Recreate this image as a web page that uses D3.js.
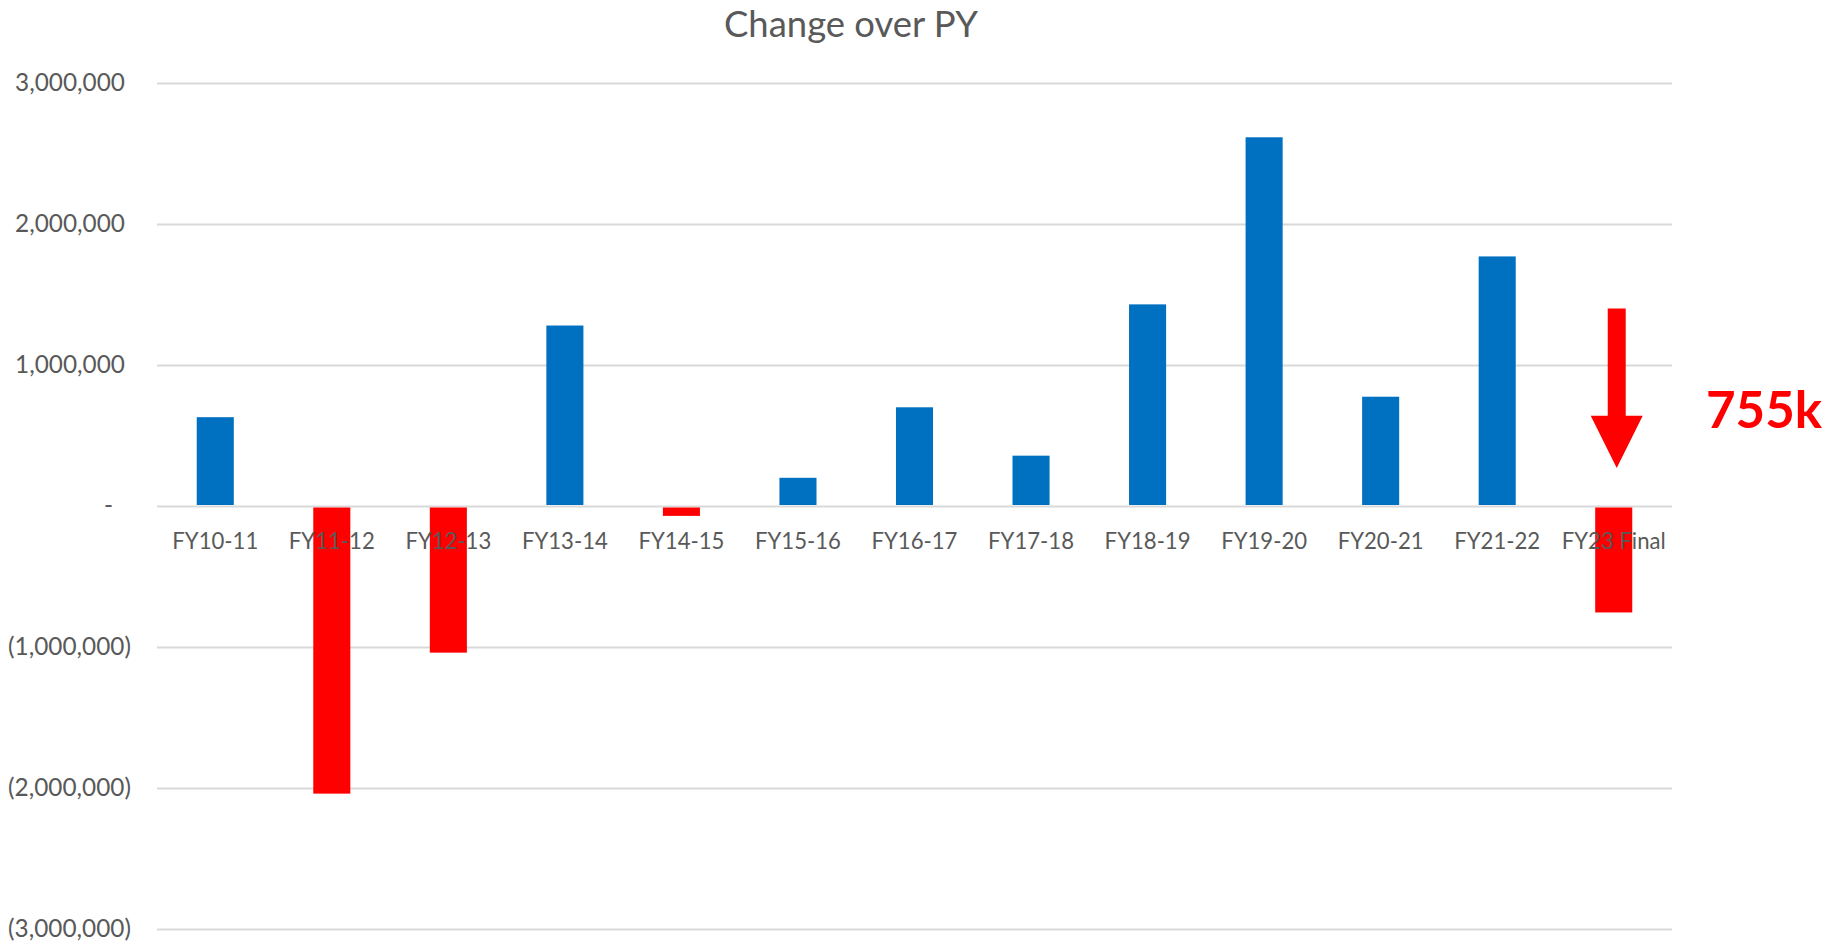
<!DOCTYPE html>
<html>
<head>
<meta charset="utf-8">
<script src="https://cdn.jsdelivr.net/npm/d3@7"></script>
<style>
  html, body { margin: 0; padding: 0; background: #fff; }
  svg text { font-family: Lato, "Open Sans", sans-serif; fill: #595959; }
</style>
</head>
<body>
<svg id="Vis" width="1846" height="944"></svg>
<script>
/*
* DATA
*/

const categories = ["FY10-11", "FY11-12", "FY12-13", "FY13-14", "FY14-15", "FY15-16",
  "FY16-17", "FY17-18", "FY18-19", "FY19-20", "FY20-21", "FY21-22", "FY23 Final"];

const changes = [630000, -2040000, -1040000, 1280000, -70000, 200000,
  700000, 357000, 1430000, 2615000, 775000, 1770000, -755000];

const yTicks = [-3000000, -2000000, -1000000, 0, 1000000, 2000000, 3000000];

const title = "Change over PY";
const callout = "755k";
// arrow annotation, in data units: shaft top, head base, tip
const arrowStops = [1400000, 640000, 270000];


/*
* SETUP
*/

const svg = d3.select("svg#Vis");

const plot = { left: 157, right: 1672, top: 83, bottom: 929 };

const x = d3.scaleBand()
  .domain(categories)
  .range([plot.left, plot.right])
  .paddingInner(0.682)
  .paddingOuter(0.341);

const y = d3.scaleLinear()
  .domain([-3000000, 3000000])
  .range([plot.bottom, plot.top]);

const g = {
  grid: svg.append("g").attr("id", "grid"),
  bars: svg.append("g").attr("id", "bars"),
  yaxis: svg.append("g").attr("id", "yaxis"),
  xaxis: svg.append("g").attr("id", "xaxis"),
  notes: svg.append("g").attr("id", "notes")
};

/* size a font so a sample string has the wanted width */
function fitSize(sample, width, weight) {
  const t = svg.append("text")
    .style("font-size", "100px")
    .style("font-weight", weight || "normal")
    .text(sample);
  const w = t.node().getComputedTextLength();
  t.remove();
  return 100 * width / w;
}

const labelSize = fitSize("FY10-11", 86);
const tickSize = fitSize("(3,000,000)", 123);


/*
* GRID
*/

g.grid
  .attr("transform", translate(plot.left, 0))
  .call(d3.axisLeft(y)
    .tickValues(yTicks)
    .tickSize(-(plot.right - plot.left))
    .tickFormat(""))
  .call(a => a.select(".domain").remove())
  .call(a => a.selectAll(".tick line")
    .attr("stroke", "#d9d9d9")
    .attr("stroke-width", 2));


/*
* BARS
*/

g.bars.selectAll("rect")
  .data(changes)
  .join("rect")
    .attr("x", (d, i) => x(categories[i]))
    .attr("width", x.bandwidth())
    .attr("y", d => d >= 0 ? y(d) : y(0) + 1.5)
    .attr("height", d => d >= 0 ? y(0) - 1 - y(d) : y(d) - y(0) - 1.5)
    .attr("fill", d => d >= 0 ? "#0070C0" : "#FF0000");


/*
* AXES
*/

const fmt = d3.format(",");

g.yaxis
  .attr("transform", translate(plot.left, 0))
  .call(d3.axisLeft(y)
    .tickValues(yTicks)
    .tickSize(0)
    .tickPadding(26)
    .tickFormat(d => d === 0 ? "-" : d < 0 ? "(" + fmt(-d) + ")" : fmt(d)))
  .call(a => a.select(".domain").remove())
  .call(a => a.selectAll("text")
    .attr("fill", "#595959")
    .style("font-family", "Lato, sans-serif")
    .style("font-size", tickSize + "px")
    .attr("dx", d => d === 0 ? -18 : d > 0 ? -6 : 0));

g.xaxis
  .attr("transform", translate(0, y(0)))
  .call(d3.axisBottom(x).tickSize(0))
  .call(a => a.select(".domain").remove())
  .call(a => a.selectAll("text")
    .attr("fill", "#595959")
    .style("font-family", "Lato, sans-serif")
    .style("font-size", labelSize + "px")
    .attr("dy", null)
    .attr("y", 43));


/*
* TITLE AND NOTES
*/

svg.append("text")
  .attr("x", 851)
  .attr("y", 37)
  .attr("text-anchor", "middle")
  .style("font-size", fitSize(title, 254) + "px")
  .text(title);

const last = categories[categories.length - 1];
const cx = x(last) + x.bandwidth() / 2 + 3;
const arrow = d3.path();
arrow.moveTo(cx - 9, y(arrowStops[0]));
arrow.lineTo(cx + 9, y(arrowStops[0]));
arrow.lineTo(cx + 9, y(arrowStops[1]));
arrow.lineTo(cx + 26, y(arrowStops[1]));
arrow.lineTo(cx, y(arrowStops[2]));
arrow.lineTo(cx - 26, y(arrowStops[1]));
arrow.lineTo(cx - 9, y(arrowStops[1]));
arrow.closePath();

g.notes.append("path")
  .attr("d", arrow.toString())
  .attr("fill", "#FF0000");

g.notes.append("text")
  .attr("x", plot.right + 34)
  .attr("y", y(550000))
  .style("fill", "#FF0000")
  .style("font-weight", "bold")
  .style("font-size", fitSize(callout, 116, "bold") + "px")
  .text(callout);


/*
* HELPER FUNCTIONS
*/

function translate(x, y) {
  return "translate(" + String(x) + "," + String(y) + ")";
}
</script>
</body>
</html>
